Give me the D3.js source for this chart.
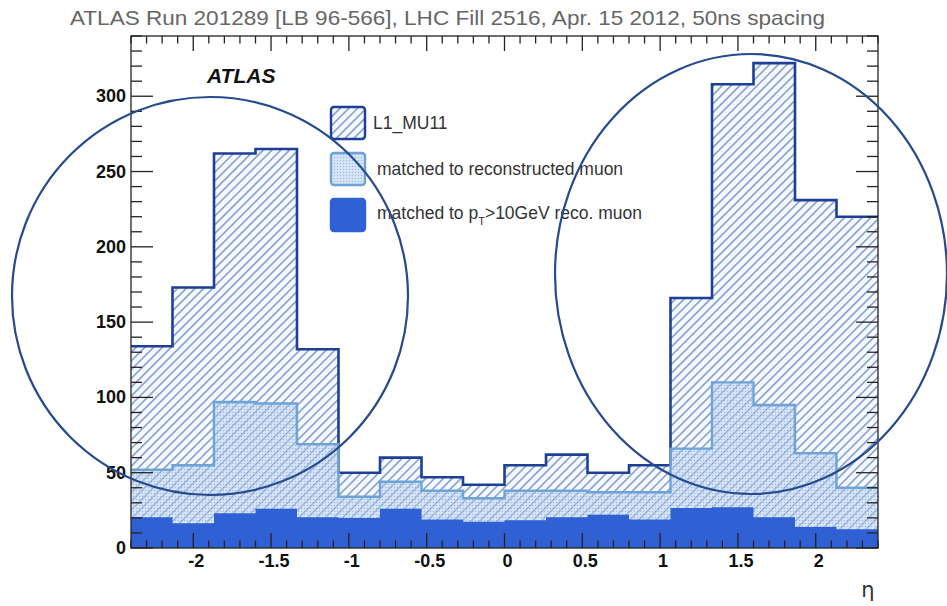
<!DOCTYPE html>
<html>
<head>
<meta charset="utf-8">
<script src="https://cdn.jsdelivr.net/npm/d3@7/dist/d3.min.js"></script>
<style>
  html, body { margin: 0; padding: 0; background: #fff; }
  svg { display: block; }
</style>
</head>
<body>
<svg id="chart" width="947" height="606"></svg>
<script>
// ---------- data ----------
const etaRange = [-2.4, 2.4];
const nBins = 18;
const l1mu11 =   [134, 173, 262, 265, 132, 50, 60, 47, 42, 55, 62, 50, 55, 166, 308, 322, 231, 220];
const matched =  [52, 55, 97, 96, 69, 34, 44, 38, 33, 38, 38, 37, 37, 66, 110, 95, 63, 40];
const matchedPt = [20.5, 16.5, 23, 26, 20.5, 20, 26, 19, 17.5, 18.5, 20.5, 22, 19, 26.5, 27, 20.5, 14, 12.5];
const xTicks = [-2, -1.5, -1, -0.5, 0, 0.5, 1, 1.5, 2];
const xTickLabels = ["-2", "-1.5", "-1", "-0.5", "0", "0.5", "1", "1.5", "2"];
const yTicks = [0, 50, 100, 150, 200, 250, 300];
const yMax = 340;
const legendLabels = ["L1_MU11", "matched to reconstructed muon", "matched to p_T>10GeV reco. muon"];
const titleText = "ATLAS Run 201289 [LB 96-566], LHC Fill 2516, Apr. 15 2012, 50ns spacing";

// ---------- layout ----------
const svg = d3.select("#chart");
const L = 131, R = 878, T = 36, B = 548;
const x = d3.scaleLinear().domain(etaRange).range([L, R]);
const y = d3.scaleLinear().domain([0, yMax]).range([B, T]);
const binW = (etaRange[1] - etaRange[0]) / nBins;
const edges = d3.range(nBins + 1).map(i => etaRange[0] + i * binW);

const cDark = "#1d3f96", cLight = "#6ea3d8", cSolid = "#2f61d5", cCircle = "#264a8e";

// ---------- patterns ----------
const defs = svg.append("defs");
const hatch = defs.append("pattern").attr("id", "hatch")
  .attr("patternUnits", "userSpaceOnUse").attr("width", 6.2).attr("height", 10)
  .attr("patternTransform", "rotate(45)");
hatch.append("rect").attr("width", 6.2).attr("height", 10).attr("fill", "#f7fafd");
hatch.append("line").attr("x1", 0.8).attr("x2", 0.8).attr("y1", 0).attr("y2", 10)
  .attr("stroke", "#6a88c8").attr("stroke-width", 1.3);

const dots = defs.append("pattern").attr("id", "dots")
  .attr("patternUnits", "userSpaceOnUse").attr("width", 3).attr("height", 3);
dots.append("rect").attr("width", 3).attr("height", 3).attr("fill", "rgba(185,210,240,0.5)");
dots.append("circle").attr("cx", 1.5).attr("cy", 1.5).attr("r", 0.75).attr("fill", "rgba(110,150,210,0.55)");

// ---------- histogram helpers ----------
function stepPoints(vals) {
  const pts = [];
  vals.forEach((v, i) => { pts.push([edges[i], v]); pts.push([edges[i + 1], v]); });
  return pts;
}
const area = d3.area().x(d => x(d[0])).y0(y(0)).y1(d => y(d[1]));
const line = d3.line().x(d => x(d[0])).y(d => y(d[1]));

const g = svg.append("g");
// L1_MU11 hatch fill
g.append("path").datum(stepPoints(l1mu11)).attr("d", area).attr("fill", "url(#hatch)");
g.append("path").datum(stepPoints(l1mu11)).attr("d", line).attr("fill", "none")
  .attr("stroke", cDark).attr("stroke-width", 2.6);
// matched
g.append("path").datum(stepPoints(matched)).attr("d", area).attr("fill", "url(#dots)");
g.append("path").datum(stepPoints(matched)).attr("d", line).attr("fill", "none")
  .attr("stroke", cLight).attr("stroke-width", 2.4);
// matched pT > 10
g.append("path").datum(stepPoints(matchedPt)).attr("d", area).attr("fill", cSolid);

// ---------- frame & ticks ----------
const ax = svg.append("g").attr("stroke", "#222").attr("stroke-width", 1.3);
ax.append("rect").attr("x", L).attr("y", T).attr("width", R - L).attr("height", B - T).attr("fill", "none");
const yMinor = d3.range(0, yMax + 0.1, 10);
yMinor.forEach(v => {
  const len = (v % 50 === 0) ? 22 : 11;
  ax.append("line").attr("x1", L).attr("x2", L + len).attr("y1", y(v)).attr("y2", y(v));
  ax.append("line").attr("x1", R).attr("x2", R - len).attr("y1", y(v)).attr("y2", y(v));
});
const xMinor = d3.range(-24, 25).map(i => i / 10);
xMinor.forEach(v => {
  const major = Math.abs(Math.round(v * 10) % 5) === 0;
  const len = major ? 15 : 7.5;
  ax.append("line").attr("x1", x(v)).attr("x2", x(v)).attr("y1", B).attr("y2", B - len);
  ax.append("line").attr("x1", x(v)).attr("x2", x(v)).attr("y1", T).attr("y2", T + len);
});

// tick labels
const lab = svg.append("g").attr("font-family", "Liberation Sans, Arial, sans-serif")
  .attr("font-weight", "bold").attr("font-size", 18).attr("fill", "#111");
yTicks.forEach(v => {
  lab.append("text").attr("x", 126).attr("y", y(v) + 6).attr("text-anchor", "end").text(v);
});
xTicks.forEach((v, i) => {
  lab.append("text").attr("x", x(v) + 3).attr("y", 567).attr("text-anchor", "middle").text(xTickLabels[i]);
});

svg.append("text").attr("x", 868).attr("y", 597).attr("text-anchor", "middle")
  .attr("font-family", "DejaVu Sans, sans-serif").attr("font-size", 21).attr("fill", "#333").text("η");

// title
svg.append("text").attr("x", 70).attr("y", 25)
  .attr("font-family", "Liberation Sans, Arial, sans-serif").attr("font-size", 21)
  .attr("textLength", 755).attr("lengthAdjust", "spacingAndGlyphs")
  .attr("fill", "#666").text(titleText);

// ATLAS
svg.append("text").attr("x", 207).attr("y", 83)
  .attr("font-family", "Liberation Sans, Arial, sans-serif").attr("font-size", 21)
  .attr("font-weight", "bold").attr("font-style", "italic").attr("fill", "#111").text("ATLAS");

// ---------- legend ----------
const leg = svg.append("g");
const boxY = [107, 153, 199];
const boxFill = ["url(#hatch)", "url(#dots)", cSolid];
const boxStroke = [cDark, cLight, cSolid];
boxY.forEach((by, i) => {
  if (i === 1) leg.append("rect").attr("x", 331).attr("y", by).attr("width", 34).attr("height", 32)
    .attr("rx", 3).attr("fill", "#f6f9fd");
  leg.append("rect").attr("x", 331).attr("y", by).attr("width", 34).attr("height", 32)
    .attr("rx", 3).attr("fill", boxFill[i]).attr("stroke", boxStroke[i]).attr("stroke-width", 2.4);
});
const lt = leg.append("g").attr("font-family", "Liberation Sans, Arial, sans-serif")
  .attr("font-size", 17.5).attr("fill", "#333");
lt.append("text").attr("x", 373).attr("y", 129).text(legendLabels[0]);
lt.append("text").attr("x", 377).attr("y", 175).text(legendLabels[1]);
const t3 = lt.append("text").attr("x", 377).attr("y", 219);
t3.append("tspan").text("matched to p");
t3.append("tspan").attr("font-size", 11).attr("dy", 6).text("T");
t3.append("tspan").attr("dy", -6).text(">10GeV reco. muon");

// ---------- annotation circles ----------
svg.append("ellipse").attr("cx", 210).attr("cy", 296).attr("rx", 198).attr("ry", 199)
  .attr("fill", "none").attr("stroke", cCircle).attr("stroke-width", 2.2);
svg.append("ellipse").attr("cx", 751).attr("cy", 274).attr("rx", 196).attr("ry", 220)
  .attr("fill", "none").attr("stroke", cCircle).attr("stroke-width", 2.2);
</script>
</body>
</html>
